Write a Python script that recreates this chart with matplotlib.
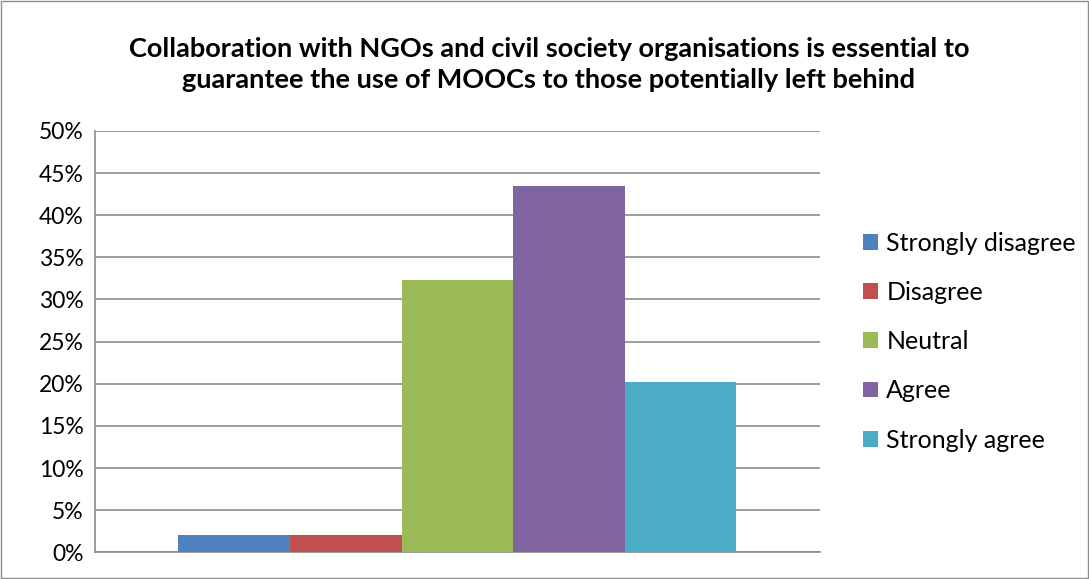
import matplotlib.pyplot as plt
import numpy as np
from matplotlib.patches import Rectangle
from matplotlib.ticker import PercentFormatter

categories = ["Strongly disagree", "Disagree", "Neutral", "Agree", "Strongly agree"]
shares = [2.1, 2.1, 32.3, 43.5, 20.2]
colors = ["#4f81bd", "#c0504d", "#9bbb59", "#8064a2", "#4bacc6"]
title = ("Collaboration with NGOs and civil society organisations is essential to\n"
         "guarantee the use of MOOCs to those potentially left behind")

plt.rcParams["font.family"] = ["Lato", "DejaVu Sans"]

fig = plt.figure(figsize=(10.89, 5.79), dpi=100)
ax = fig.add_axes([0.087, 0.046, 0.666, 0.728])

xs = np.arange(len(categories)) - (len(categories) - 1) / 2
for x, v, c, lab in zip(xs, shares, colors, categories):
    ax.bar(x, v, width=1.0, color=c, label=lab, zorder=3)

ax.set_xlim(-3.25, 3.25)
ax.set_ylim(0, 50)
ax.set_yticks(np.arange(0, 51, 5))
ax.yaxis.set_major_formatter(PercentFormatter(decimals=0))
ax.set_xticks([])
ax.tick_params(axis="y", length=0, pad=8, labelsize=16.5, labelcolor="#000000")
ax.grid(axis="y", color="#8c8c8c", linewidth=1.2, zorder=0)
for side in ["top", "right"]:
    ax.spines[side].set_visible(False)
for side in ["left", "bottom"]:
    ax.spines[side].set_color("#8c8c8c")
    ax.spines[side].set_linewidth(1.2)

fig.text(0.504, 0.889, title, ha="center", va="center", fontsize=19.5,
         fontweight="bold", linespacing=1.33)

ax.legend(loc="center left", bbox_to_anchor=(1.045, 0.5), frameon=False,
          fontsize=18, handlelength=0.6, handleheight=0.6, handletextpad=0.35,
          labelspacing=1.05, borderaxespad=0)

fig.patches.append(Rectangle((0.001, 0.001), 0.998, 0.997, transform=fig.transFigure,
                             fill=False, edgecolor="#8c8c8c", linewidth=1))

fig.savefig("out.png", dpi=100)
